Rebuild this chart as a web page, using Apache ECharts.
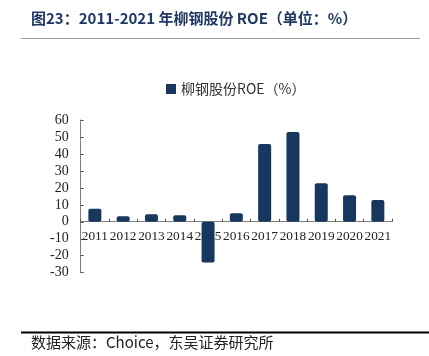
<!DOCTYPE html>
<html><head><meta charset="utf-8">
<script src="https://cdn.jsdelivr.net/npm/echarts@6/dist/echarts.min.js"></script>
<style>html,body{margin:0;padding:0;background:#fff}#c{width:429px;height:356px}</style>
</head><body><div id="c"></div>
<script>
const categories = ['2011','2012','2013','2014','2015','2016','2017','2018','2019','2020','2021'];
const roeValues = [7.7, 3.2, 4.5, 3.8, -24.0, 5.1, 45.8, 52.9, 22.7, 15.6, 12.8];
const seriesName = '柳钢股份ROE（%）';
const titleText = '图23：2011-2021 年柳钢股份 ROE（单位：%）';
const sourceText = '数据来源：Choice，东吴证券研究所';

const chart = echarts.init(document.getElementById('c'));
chart.setOption({
  animation: false,
  backgroundColor: '#fff',
  graphic: [
    {type:'text', left:31, top:11, style:{text:titleText, font:'bold 15px "Noto Sans CJK SC", "Liberation Sans", sans-serif', fill:'#1f3864'}},
    {type:'line', shape:{x1:21,y1:38.5,x2:420,y2:38.5}, style:{stroke:'#9a9a9a', lineWidth:1}},
    {type:'line', shape:{x1:21,y1:332.5,x2:429,y2:332.5}, style:{stroke:'#000', lineWidth:2}},
    {type:'text', left:31, top:335, style:{text:sourceText, font:'15px "Noto Sans CJK SC", sans-serif', fill:'#222'}}
  ],
  legend: {
    top: 77, left: 161,
    itemWidth: 10, itemHeight: 10, itemGap: 4,
    icon: 'rect',
    textStyle: {fontSize: 14, color:'#333', fontFamily:'"Noto Sans CJK SC", serif'},
    data: [seriesName]
  },
  grid: {left: 80.7, right: 37, top: 120, bottom: 83.3},
  xAxis: {
    type: 'category', data: categories,
    offset: -51,
    axisLine: {onZero: false, lineStyle:{color:'#7f7f7f'}},
    axisTick: {show:true, inside:true, length:3, alignWithLabel:false, lineStyle:{color:'#555'}},
    axisLabel: {margin: 8, fontSize: 13.3, color:'#222', fontFamily:'"Liberation Serif", serif', interval:0}
  },
  yAxis: {
    type: 'value', min: -30, max: 60, interval: 10,
    splitLine: {show:false},
    axisLine: {show:true, lineStyle:{color:'#7f7f7f'}},
    axisTick: {show:true, inside:true, length:3, lineStyle:{color:'#555'}},
    axisLabel: {margin: 12, fontSize: 14, color:'#222', fontFamily:'"Liberation Serif", serif'}
  },
  series: [{
    name: seriesName, type: 'bar', data: roeValues,
    barWidth: 13,
    itemStyle: {color:'#17375e', borderRadius: 2}
  }]
});
</script></body></html>
